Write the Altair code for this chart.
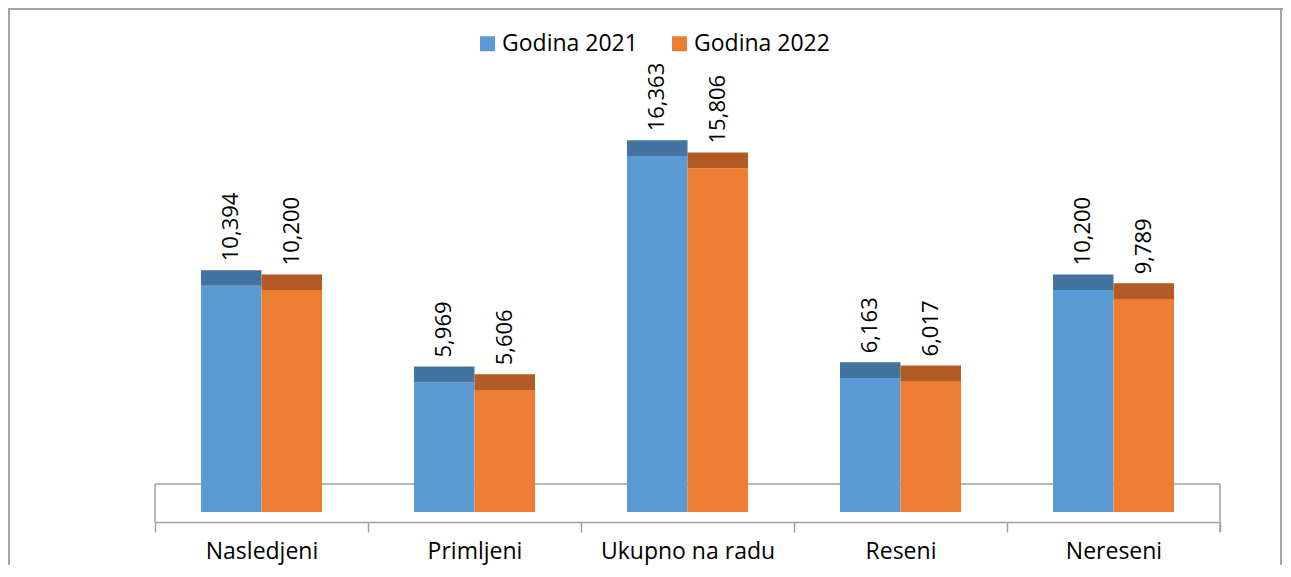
import altair as alt
import pandas as pd

categories = ["Nasledjeni", "Primljeni", "Ukupno na radu", "Reseni", "Nereseni"]
series = ["Godina 2021", "Godina 2022"]
values_2021 = [10394, 5969, 16363, 6163, 10200]
values_2022 = [10200, 5606, 15806, 6017, 9789]

front_colors = ["#5B9BD5", "#ED7D31"]
cap_colors = ["#43739F", "#B25B25"]

rows = []
for c, a, b in zip(categories, values_2021, values_2022):
    rows.append({"cat": c, "series": series[0], "value": a})
    rows.append({"cat": c, "series": series[1], "value": b})
df = pd.DataFrame(rows)
one = pd.DataFrame({"k": [0]})

W, H = 1065, 452
YMAX = 20776
CAP = 720
FONT = "Open Sans"

x_enc = alt.X(
    "cat:N", sort=categories,
    scale=alt.Scale(paddingInner=0, paddingOuter=0),
    axis=alt.Axis(title=None, orient="bottom", offset=10, tickBand="extent",
                  tickSize=10, domainColor="#a0a0a0", tickColor="#a0a0a0",
                  domainWidth=1.5, tickWidth=1.5, labelAngle=0,
                  labelFont=FONT, labelFontSize=23, labelColor="#000000",
                  labelPadding=8, grid=False),
)
xoff = alt.XOffset("series:N", sort=series,
                   scale=alt.Scale(paddingInner=0, paddingOuter=0.76))
y_scale = alt.Scale(domain=[0, YMAX], nice=False, zero=True)

base = alt.Chart(df).transform_calculate(cap=f"datum.value + {CAP}")

bars = base.mark_bar(strokeWidth=0).encode(
    x=x_enc, xOffset=xoff,
    y=alt.Y("value:Q", scale=y_scale, axis=None),
    color=alt.Color("series:N", sort=series,
                    scale=alt.Scale(domain=series, range=front_colors),
                    legend=alt.Legend(orient="none", legendX=321, legendY=-28,
                                      direction="horizontal", title=None,
                                      symbolType="square", symbolSize=225,
                                      symbolStrokeWidth=0, labelFont=FONT,
                                      labelFontSize=23, labelColor="#000000",
                                      columnPadding=30, labelOffset=3)),
)

caps = base.mark_bar(strokeWidth=0).encode(
    x=x_enc, xOffset=xoff,
    y=alt.Y("cap:Q", scale=y_scale, axis=None),
    y2="value:Q",
    color=alt.Color("series:N", sort=series,
                    scale=alt.Scale(domain=series, range=cap_colors),
                    legend=None),
)

labels = base.mark_text(angle=270, align="left", baseline="middle", dx=9,
                        font=FONT, fontSize=22, color="#000000").encode(
    x=x_enc, xOffset=xoff,
    y=alt.Y("cap:Q", scale=y_scale, axis=None),
    text=alt.Text("value:Q", format=","),
)

deco = alt.Chart(one)
floor_top = deco.mark_rule(color="#a0a0a0", strokeWidth=1.5).encode(
    x=alt.value(0), x2=alt.value(W), y=alt.value(424))
floor_left = deco.mark_rule(color="#a0a0a0", strokeWidth=1.5).encode(
    x=alt.value(0), y=alt.value(424), y2=alt.value(462))
floor_right = deco.mark_rule(color="#a0a0a0", strokeWidth=1.5).encode(
    x=alt.value(W), y=alt.value(424), y2=alt.value(472))

frame_left = deco.mark_rule(color="#a6a6a6", strokeWidth=2).encode(
    x=alt.value(-146), y=alt.value(-51), y2=alt.value(505))
frame_top = deco.mark_rule(color="#a6a6a6", strokeWidth=2).encode(
    x=alt.value(-147), x2=alt.value(1128), y=alt.value(-51))
frame_right = deco.mark_rule(color="#a6a6a6", strokeWidth=2).encode(
    x=alt.value(1126), y=alt.value(-51), y2=alt.value(505))

chart = alt.layer(
    frame_left, frame_top, frame_right,
    floor_top, floor_left, floor_right,
    bars, caps, labels,
).resolve_scale(color="independent").properties(
    width=W, height=H,
    autosize=alt.AutoSizeParams(type="none"),
    padding={"left": 147, "top": 52, "right": 63, "bottom": 53},
    background="white",
).configure_view(stroke=None)

chart.save("out.html", embed_options={"renderer": "svg", "actions": False})
